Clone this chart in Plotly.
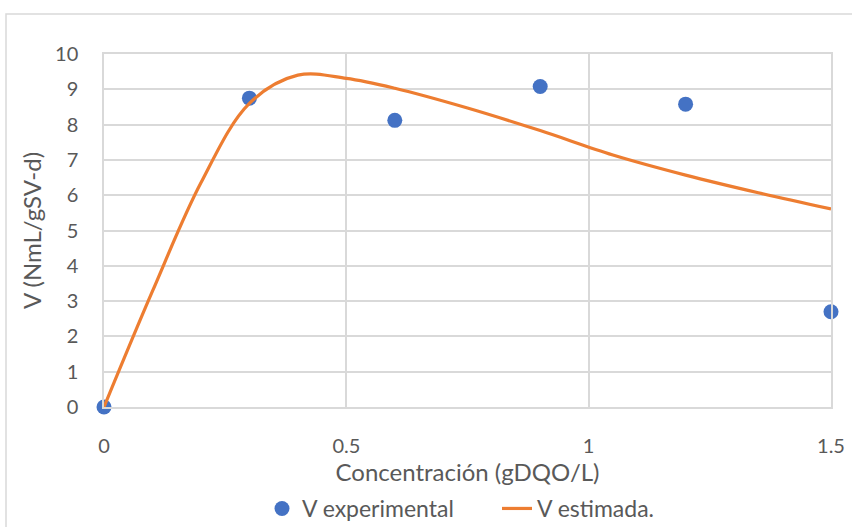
import plotly.graph_objects as go

# Experimental points
x_exp = [0, 0.3, 0.6, 0.9, 1.2, 1.5]
v_exp = [0, 8.75, 8.12, 9.08, 8.58, 2.70]
# Estimated curve
x_est = [0, 0.1, 0.2, 0.3, 0.4, 0.5, 0.6, 0.75, 0.9, 1.05, 1.2, 1.35, 1.5]
v_est = [0, 3.28, 6.35, 8.6, 9.4, 9.31, 9.03, 8.47, 7.83, 7.14, 6.57, 6.07, 5.61]

x_ticks = [0, 0.5, 1, 1.5]
x_ticktext = ["0", "0.5", "1", "1.5"]

FONT = "Lato"
GRAY = "#595959"
GRID = "#d9d9d9"

fig = go.Figure()
fig.add_trace(go.Scatter(x=x_exp, y=v_exp, mode="markers", name="V experimental",
                         marker=dict(color="#4472C4", size=15), cliponaxis=False))
fig.add_trace(go.Scatter(x=x_est, y=v_est, mode="lines", name="V estimada.",
                         line=dict(color="#ED7D31", width=3.2, shape="spline", smoothing=1.0),
                         cliponaxis=False))

fig.update_layout(
    width=852, height=527,
    margin=dict(l=104, r=21, t=54, b=120),
    paper_bgcolor="white", plot_bgcolor="white",
    font=dict(family=FONT, color=GRAY, size=20),
    showlegend=True,
    legend=dict(orientation="h", x=262 / 852, xanchor="left", xref="container",
                y=(527 - 487) / 527, yanchor="top", yref="container",
                font=dict(size=23, color=GRAY), traceorder="normal",
                entrywidth=190, itemwidth=30),
    xaxis=dict(range=[0, 1.5], tickvals=x_ticks, ticktext=x_ticktext,
               showgrid=True, gridcolor=GRID, gridwidth=1.5, zeroline=False,
               showline=True, linecolor=GRID, linewidth=1.5, mirror=True,
               ticks="", ticklabelstandoff=20, automargin=False,
               tickfont=dict(size=20, color=GRAY),
               title=dict(text="Concentración (gDQO/L)", font=dict(size=24, color=GRAY), standoff=7)),
    yaxis=dict(range=[0, 10], dtick=1,
               showgrid=True, gridcolor=GRID, gridwidth=1.5, zeroline=False,
               showline=True, linecolor=GRID, linewidth=1.5, mirror=True,
               ticks="", ticklabelstandoff=20, automargin=False,
               tickfont=dict(size=20, color=GRAY),
               title=dict(text="V (NmL/gSV-d)", font=dict(size=24, color=GRAY), standoff=7)),
    shapes=[dict(type="rect", xref="paper", yref="paper",
                 x0=(6 - 104) / 727, x1=(870 - 104) / 727,
                 y0=(407 - 560) / 353, y1=(407 - 14) / 353,
                 line=dict(color="#d9d9d9", width=1.5), fillcolor="rgba(0,0,0,0)", layer="below")],
)

fig.write_html("out.html")
